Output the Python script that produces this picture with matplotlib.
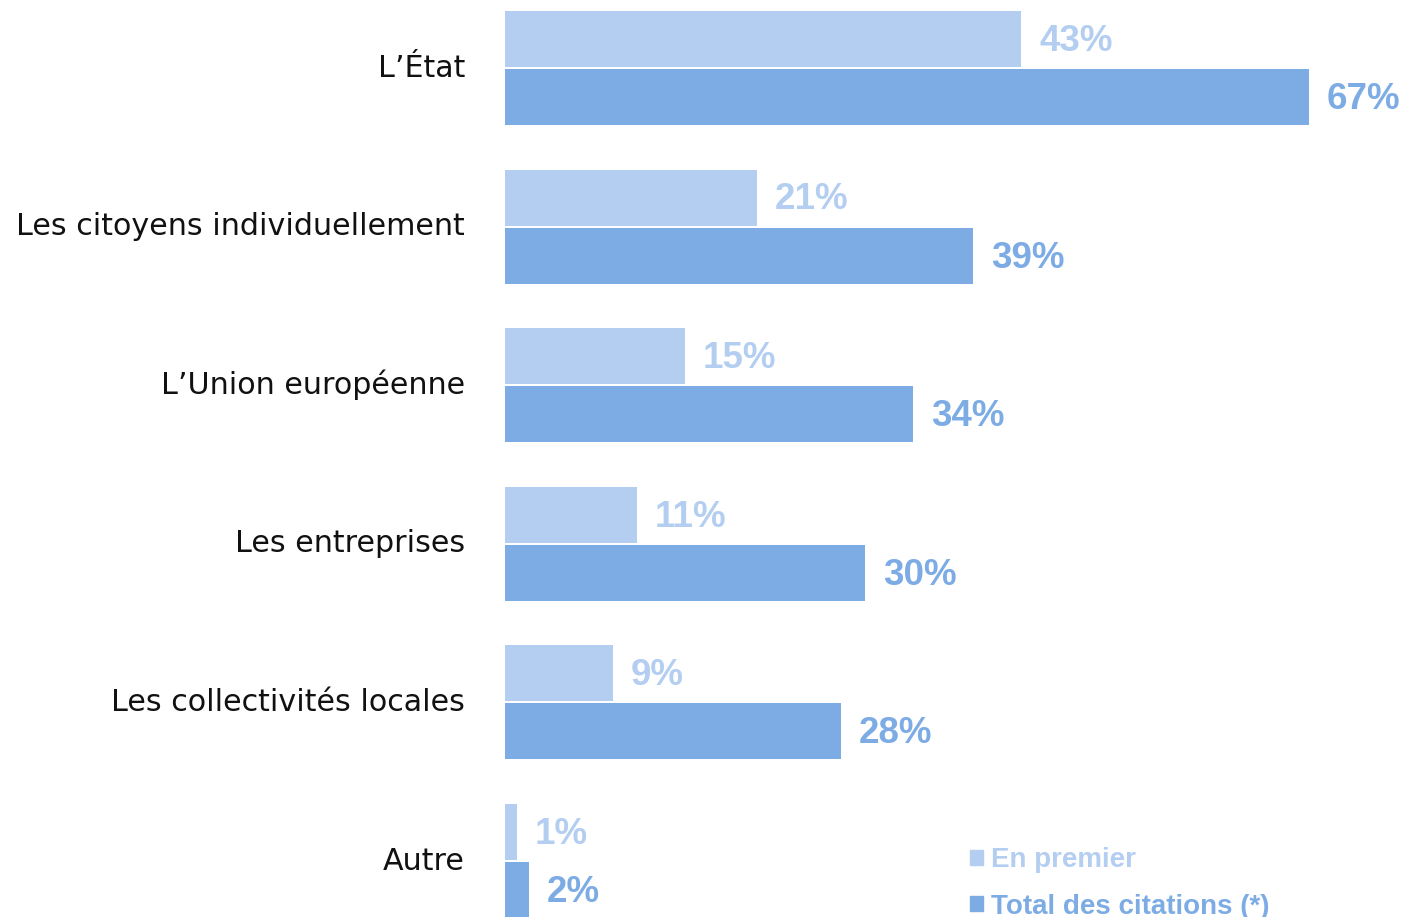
import matplotlib.pyplot as plt
from matplotlib.patches import Patch
import numpy as np

categories = ["L\u2019État", "Les citoyens individuellement", "L\u2019Union européenne",
              "Les entreprises", "Les collectivités locales", "Autre"]
en_premier = [43, 21, 15, 11, 9, 1]
total_citations = [67, 39, 34, 30, 28, 2]
series_names = ["En premier", "Total des citations (*)"]

light = "#B3CEF1"
dark = "#7DACE5"

fig = plt.figure(figsize=(14.07, 9.17), dpi=100)
ax = fig.add_axes([505 / 1407, 0, 902 / 1407, 1])

y = np.arange(len(categories))
h = 0.353
off = 0.183
ax.barh(y - off, en_premier, height=h, color=light)
ax.barh(y + off, total_citations, height=h, color=dark)

ax.set_xlim(0, 902 / 12)
ax.set_ylim(5.353, -0.4288)
ax.axis("off")

for yi, v in zip(y, en_premier):
    ax.text(v + 1.5, yi - off + 0.015, f"{v}%", color=light, fontsize=26.5, fontweight="bold",
            family="Liberation Sans", va="center", ha="left")
for yi, v in zip(y, total_citations):
    ax.text(v + 1.5, yi + off + 0.015, f"{v}%", color=dark, fontsize=26.5, fontweight="bold",
            family="Liberation Sans", va="center", ha="left")

for yi, c in zip(y, categories):
    ax.text(-40 / 12, yi, c, fontsize=21.7, family="DejaVu Sans", color="#111111",
            va="center", ha="right")

handles = [Patch(color=light), Patch(color=dark)]
fig.legend(handles, series_names, loc="upper left", bbox_to_anchor=(945 / 1407, 1 - 822 / 917),
           frameon=False, handlelength=0.45, handleheight=0.45, handletextpad=0.3,
           labelspacing=0.75, labelcolor=[light, dark],
           prop={"family": "Liberation Sans", "weight": "bold", "size": 20})

fig.savefig("out.png", dpi=100)
